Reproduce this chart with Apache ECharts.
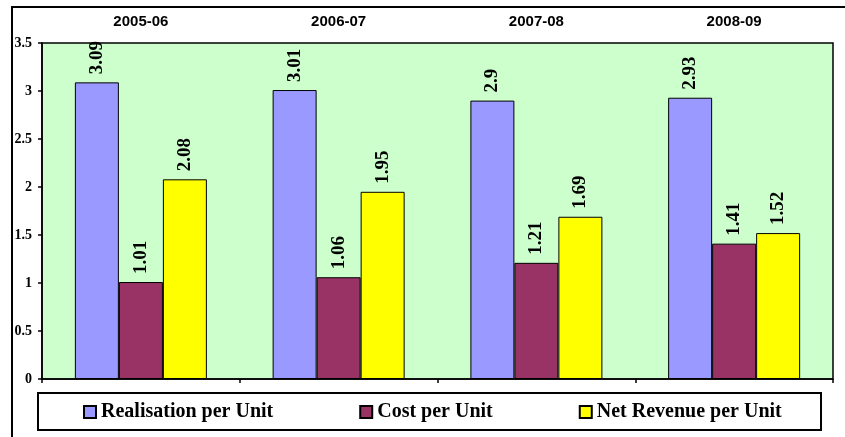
<!DOCTYPE html>
<html>
<head>
<meta charset="utf-8">
<script src="https://cdn.jsdelivr.net/npm/echarts@6/dist/echarts.min.js"></script>
<style>
  html, body { margin: 0; padding: 0; background: #fff; }
  #chart { width: 845px; height: 437px; }
</style>
</head>
<body>
<div id="chart"></div>
<script>
// Per-unit figures by financial year
const years = ['2005-06', '2006-07', '2007-08', '2008-09'];
const realisationPerUnit = [3.09, 3.01, 2.9, 2.93];
const costPerUnit = [1.01, 1.06, 1.21, 1.41];
const netRevenuePerUnit = [2.08, 1.95, 1.69, 1.52];
const seriesNames = ['Realisation per Unit', 'Cost per Unit', 'Net Revenue per Unit'];

const serif = '"Liberation Serif", "Times New Roman", serif';
const sans = '"Liberation Sans", Arial, sans-serif';

function barSeries(name, data, color) {
  return {
    name: name,
    type: 'bar',
    data: data,
    xAxisIndex: 0,
    barWidth: 44,
    barGap: '0%',
    itemStyle: { color: color, borderColor: '#000', borderWidth: 1 },
    label: {
      show: true,
      position: 'top',
      rotate: 90,
      align: 'left',
      verticalAlign: 'middle',
      distance: 8,
      color: '#000',
      fontFamily: serif,
      fontWeight: 'bold',
      fontSize: 19
    }
  };
}

const chart = echarts.init(document.getElementById('chart'));
chart.setOption({
  backgroundColor: '#fff',
  animation: false,
  grid: {
    left: 42, top: 43, right: 12, bottom: 58,
    show: true,
    backgroundColor: '#ccffcc',
    borderColor: '#000',
    borderWidth: 1.5
  },
  xAxis: [
    {
      type: 'category',
      data: years,
      position: 'bottom',
      axisLine: { show: true, lineStyle: { color: '#000', width: 1.5 } },
      axisTick: { show: true, length: 4, lineStyle: { color: '#000', width: 1.5 } },
      axisLabel: { show: false }
    },
    {
      type: 'category',
      data: years,
      position: 'top',
      axisLine: { show: false },
      axisTick: { show: false },
      axisLabel: {
        show: true,
        margin: 14,
        color: '#000',
        fontFamily: sans,
        fontWeight: 'bold',
        fontSize: 15
      }
    }
  ],
  yAxis: {
    type: 'value',
    min: 0,
    max: 3.5,
    interval: 0.5,
    axisLine: { show: true, lineStyle: { color: '#000', width: 1.5 } },
    axisTick: { show: true, length: 4, lineStyle: { color: '#000', width: 1.5 } },
    splitLine: { show: false },
    axisLabel: {
      margin: 10,
      color: '#000',
      fontFamily: serif,
      fontWeight: 'bold',
      fontSize: 14
    }
  },
  legend: {
    data: seriesNames,
    left: 83,
    top: 402,
    padding: 0,
    itemGap: 86,
    itemWidth: 12,
    itemHeight: 12,
    icon: 'rect',
    textStyle: {
      color: '#000',
      fontFamily: serif,
      fontWeight: 'bold',
      fontSize: 20,
      lineHeight: 20
    }
  },
  graphic: [
    {
      type: 'rect',
      shape: { x: 12, y: 7, width: 900, height: 500 },
      style: { fill: 'none', stroke: '#000', lineWidth: 2 },
      silent: true,
      z: 100
    },
    {
      type: 'rect',
      shape: { x: 38, y: 393, width: 783, height: 37 },
      style: { fill: 'none', stroke: '#000', lineWidth: 2 },
      silent: true,
      z: 100
    }
  ],
  series: [
    barSeries(seriesNames[0], realisationPerUnit, '#9999ff'),
    barSeries(seriesNames[1], costPerUnit, '#993366'),
    barSeries(seriesNames[2], netRevenuePerUnit, '#ffff00')
  ]
});
</script>
</body>
</html>
